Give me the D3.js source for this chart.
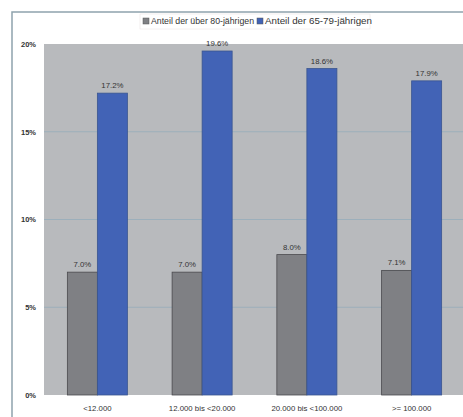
<!DOCTYPE html>
<html><head><meta charset="utf-8">
<script src="https://cdn.jsdelivr.net/npm/d3@7"></script>
<style>body{margin:0;background:#fff}svg{display:block}</style>
</head><body>
<script>
const categories = ["<12.000", "12.000 bis <20.000", "20.000 bis <100.000", ">= 100.000"];
const seriesNames = ["Anteil der über 80-jährigen", "Anteil der 65-79-jährigen"];
const over80 = [7.0, 7.0, 8.0, 7.1];
const age65to79 = [17.2, 19.6, 18.6, 17.9];
const yTicks = [0, 5, 10, 15, 20];
const colors = ["#7f8084", "#4263b6"];

const W = 463, H = 417;
const svg = d3.select("body").append("svg").attr("width", W).attr("height", H);
const font = "Liberation Sans, Arial, sans-serif";

// outer frame
svg.append("path").attr("d", `M12,${H} V12 H${W}`).attr("fill", "none").attr("stroke", "#8fa3ad").attr("stroke-width", 1.5);

const plot = {l: 44, r: 463, t: 44, b: 395};
const x = d3.scaleBand().domain(categories).range([plot.l + 1, plot.r + 1]);
const x1 = d3.scaleBand().domain([0, 1]).range([0, x.bandwidth()]).paddingInner(0).paddingOuter(0.745);
const y = d3.scaleLinear().domain([0, 20]).range([plot.b, plot.t]);

svg.append("rect").attr("x", plot.l).attr("y", plot.t).attr("width", plot.r - plot.l).attr("height", plot.b - plot.t).attr("fill", "#b8babd");

svg.append("g").selectAll("line").data(yTicks.filter(d => d > 0 && d < 20)).join("line")
  .attr("x1", plot.l).attr("x2", plot.r).attr("y1", d => y(d)).attr("y2", d => y(d))
  .attr("stroke", "#9cafbb").attr("stroke-width", 1);

const yAxis = d3.axisLeft(y).tickValues(yTicks).tickFormat(d => d + "%").tickSize(0).tickPadding(8);
const ga = svg.append("g").attr("transform", `translate(${plot.l},0)`).call(yAxis);
ga.select(".domain").remove();
ga.selectAll("text").attr("font-family", font).attr("font-size", 7.5).attr("fill", "#333").attr("font-weight", "bold");

const xAxis = d3.axisBottom(x).tickSize(0).tickPadding(10);
const gx = svg.append("g").attr("transform", `translate(0,${plot.b})`).call(xAxis);
gx.select(".domain").remove();
gx.selectAll("text").attr("font-family", font).attr("font-size", 7.8).attr("fill", "#333");

const data = categories.map((c, i) => ({c, vals: [over80[i], age65to79[i]]}));
const groups = svg.append("g").selectAll("g").data(data).join("g").attr("transform", d => `translate(${x(d.c)},0)`);
groups.selectAll("rect").data(d => d.vals.map((v, j) => ({v, j}))).join("rect")
  .attr("x", d => x1(d.j)).attr("width", x1.bandwidth())
  .attr("y", d => y(d.v)).attr("height", d => plot.b - y(d.v))
  .attr("fill", d => colors[d.j]).attr("stroke", d => d.j === 0 ? "#4a4a4e" : "#3a5590").attr("stroke-width", 0.8);
groups.selectAll("text").data(d => d.vals.map((v, j) => ({v, j}))).join("text")
  .attr("x", d => x1(d.j) + x1.bandwidth() / 2).attr("y", d => y(d.v) - 5)
  .attr("text-anchor", "middle").attr("font-family", font).attr("font-size", 7.8).attr("fill", "#333")
  .text(d => d.v.toFixed(1) + "%");

// legend
const lg = svg.append("g");
lg.append("rect").attr("x", 140).attr("y", 14).attr("width", 230).attr("height", 15).attr("fill", "#fff").attr("stroke", "#e8e0e0").attr("stroke-width", 0.5);
const items = [{name: seriesNames[0], x: 143, w: 103, c: colors[0]}, {name: seriesNames[1], x: 257, w: 107, c: colors[1]}];
items.forEach(it => {
  lg.append("rect").attr("x", it.x).attr("y", 18).attr("width", 6).attr("height", 6).attr("fill", it.c).attr("stroke", "#555").attr("stroke-width", 0.5);
  lg.append("text").attr("x", it.x + 8).attr("y", 24).attr("font-family", font).attr("font-size", 8.3).attr("fill", "#333")
    .attr("textLength", it.w).attr("lengthAdjust", "spacingAndGlyphs").text(it.name);
});
</script>
</body></html>
